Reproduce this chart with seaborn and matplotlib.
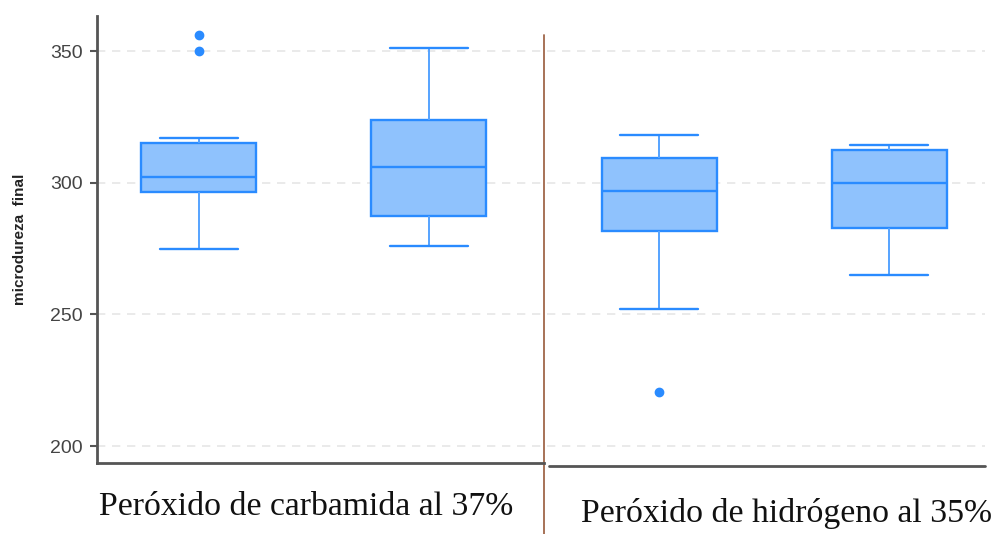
import pandas as pd
import matplotlib
matplotlib.use('Agg')
import matplotlib.pyplot as plt
import matplotlib.transforms as mtransforms
import seaborn as sns

# observaciones por grupo (cuartiles, bigotes y atipicos)
grupos = ['G1', 'G2', 'G3', 'G4']
g1 = [275, 290, 296.5, 296.5, 299, 302, 308, 313, 317, 350, 356]
g2 = [276, 282, 287.5, 298, 306, 315, 324, 338, 351]
g3 = [220.5, 252, 281.5, 290, 297, 304, 309.5, 314, 318]
g4 = [265, 275, 283, 292, 300, 306, 312.5, 313.5, 314.5]
etiquetas = ['Peróxido de carbamida al 37%', 'Peróxido de hidrógeno al 35%']
yticks = [200, 250, 300, 350]

data = pd.DataFrame({
    'grupo': [grupos[0]] * len(g1) + [grupos[1]] * len(g2) + [grupos[2]] * len(g3) + [grupos[3]] * len(g4),
    'microdureza': g1 + g2 + g3 + g4,
})

sns.set_style('white')
plt.rcParams['font.family'] = ['Liberation Sans', 'DejaVu Sans']

fig = plt.figure(figsize=(10, 5.34), dpi=100)
ax = fig.add_axes([0.097, 0.133, 0.888, 0.837])

azul = '#2a8bff'
sns.boxplot(data=data, x='grupo', y='microdureza', order=grupos, ax=ax,
            width=0.5, color='#8fc2fd', linecolor=azul, linewidth=1.7,
            saturation=1, capwidths=0.34,
            whiskerprops={'color': '#55a3ff', 'linewidth': 1.4},
            flierprops={'marker': 'o', 'markerfacecolor': azul,
                        'markeredgecolor': azul, 'markersize': 6})

ax.set_ylim(193.6, 363.3)
ax.set_xlim(-0.443, 3.417)
ax.set_yticks(yticks)
ax.set_xticks([])
ax.set_xlabel('')
ax.yaxis.grid(True, linestyle=(0, (5, 4)), color='#e6e6e6', linewidth=1.2)
ax.set_axisbelow(True)
ax.tick_params(axis='y', direction='out', length=5, width=1.5, color='#555555',
               labelsize=14, labelcolor='#444444', left=True, pad=5)
for s in ['top', 'right']:
    ax.spines[s].set_visible(False)
for s in ['left', 'bottom']:
    ax.spines[s].set_color('#555555')
    ax.spines[s].set_linewidth(2)
ax.spines['bottom'].set_bounds(-0.443, 1.5)

trans = mtransforms.blended_transform_factory(ax.transData, ax.transAxes)
# tramo derecho del eje x, un poco mas abajo
ax.plot([1.52, 3.417], [-0.007, -0.007], transform=trans, color='#555555',
        linewidth=2, clip_on=False)

ax.set_ylabel('microdureza  final', fontsize=11, color='#222222', fontweight='bold',
              family=['Liberation Sans Narrow', 'Liberation Sans', 'DejaVu Sans'])
ax.yaxis.set_label_coords(-0.079, 0.5)

# linea divisoria entre tratamientos
ax.plot([1.5, 1.5], [-0.16, 0.957], transform=trans, color='#a0674a',
        linewidth=1.3, clip_on=False)

ax.text(0.465, -0.097, etiquetas[0], transform=trans, ha='center', va='center',
        fontsize=24.3, family=['Liberation Serif', 'DejaVu Serif'], color='#111111')
ax.text(2.552, -0.112, etiquetas[1], transform=trans, ha='center', va='center',
        fontsize=24.3, family=['Liberation Serif', 'DejaVu Serif'], color='#111111')

fig.savefig('out.png', dpi=100)
